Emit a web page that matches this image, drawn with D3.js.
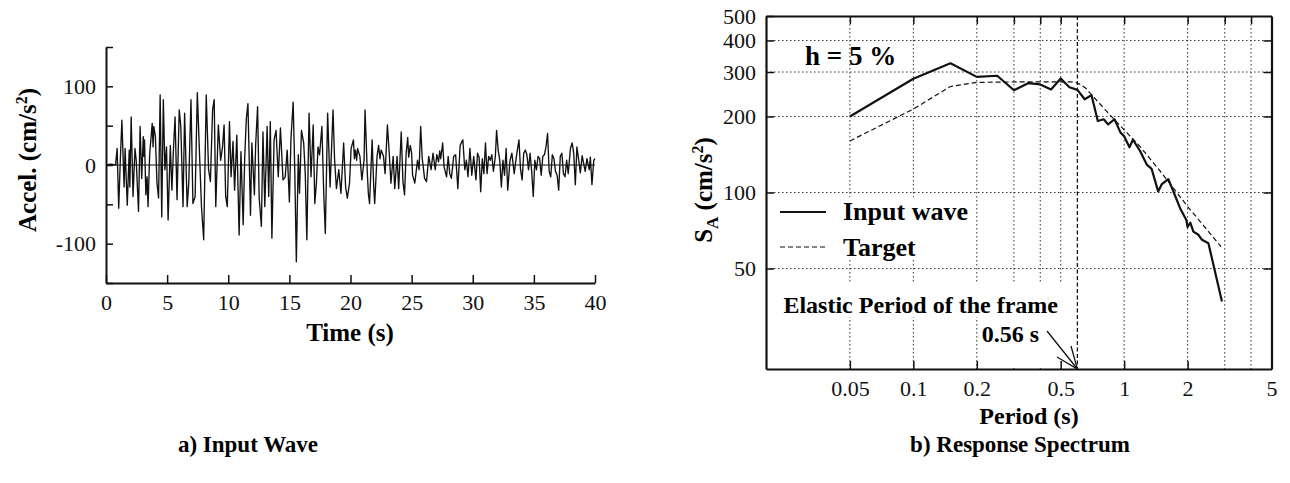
<!DOCTYPE html>
<html>
<head>
<meta charset="utf-8">
<script src="https://cdn.jsdelivr.net/npm/d3@7"></script>
<style>
  body { margin: 0; background: #fff; }
  svg { display: block; font-family: "Liberation Serif", "Times New Roman", serif; }
</style>
</head>
<body>
<svg id="chart" width="1290" height="483"></svg>
<script>
// ---- a) input wave : [time (s), accel (cm/s2)] read peak by peak off the trace
var wave = [
  [0,0],[0.4,1],[0.78,0],[0.91,21],[1.04,-55],[1.17,6],[1.30,57],[1.48,-28],[1.56,21],[1.74,-51],
  [1.90,19],[1.95,-28],[2.06,61],[2.21,-40],[2.37,21],[2.47,6],[2.66,-59],[2.79,49],[2.92,-17],[3.05,36],
  [3.10,11],[3.15,32],[3.26,-38],[3.36,-15],[3.44,-53],[3.57,13],[3.78,53],[3.85,23],[3.91,49],[4.04,36],
  [4.17,-23],[4.30,-42],[4.43,89],[4.56,-66],[4.69,83],[4.82,-6],[4.95,23],[5.08,-70],[5.26,25],[5.39,-32],
  [5.52,21],[5.65,61],[5.81,-44],[5.99,70],[6.12,49],[6.30,-53],[6.43,66],[6.64,-53],[6.77,-23],[6.95,83],
  [7.11,-49],[7.29,-40],[7.47,92],[7.63,23],[7.81,-53],[7.99,-95],[8.20,89],[8.39,-6],[8.54,-21],[8.72,70],
  [8.85,83],[8.98,-53],[9.19,51],[9.38,6],[9.53,23],[9.66,51],[9.79,-40],[9.92,-53],[10.10,55],[10.23,-15],
  [10.39,30],[10.52,-32],[10.70,38],[10.89,-89],[11.04,17],[11.22,-76],[11.35,11],[11.48,59],[11.61,78],[11.82,-64],
  [11.93,28],[12.14,-38],[12.24,25],[12.40,74],[12.53,-42],[12.71,-78],[12.84,42],[12.99,-53],[13.18,49],[13.31,-40],
  [13.44,55],[13.57,-93],[13.75,32],[13.91,44],[14.09,-15],[14.27,47],[14.48,-19],[14.66,-15],[14.82,19],[15.00,-47],
  [15.13,34],[15.31,80],[15.44,-6],[15.57,-123],[15.73,13],[15.83,-36],[15.99,44],[16.17,28],[16.30,-11],[16.43,-95],
  [16.61,66],[16.77,-15],[16.95,51],[17.08,-49],[17.21,-23],[17.34,23],[17.47,13],[17.66,49],[17.81,-36],[17.94,-87],
  [18.13,66],[18.33,-28],[18.57,70],[18.70,6],[18.85,-30],[19.04,-6],[19.22,-36],[19.44,28],[19.60,-28],[19.74,-42],
  [19.92,-23],[20.05,21],[20.24,32],[20.32,8],[20.40,19],[20.50,6],[20.58,21],[20.77,11],[20.93,-19],[21.11,6],
  [21.19,70],[21.38,-11],[21.46,-36],[21.56,-49],[21.77,32],[21.90,-28],[21.98,-49],[22.17,11],[22.30,25],[22.41,8],
  [22.51,19],[22.70,11],[22.83,-11],[23.02,51],[23.17,15],[23.31,-23],[23.49,11],[23.62,-30],[23.81,11],[23.94,-30],
  [24.15,42],[24.29,-21],[24.42,-38],[24.55,15],[24.68,35],[24.76,10],[24.89,25],[25.00,15],[25.08,-13],[25.26,-23],
  [25.48,6],[25.61,-6],[25.74,49],[25.87,8],[26.06,-17],[26.22,-21],[26.40,11],[26.59,-6],[26.75,15],[26.93,-6],
  [27.06,13],[27.20,4],[27.30,18],[27.38,8],[27.54,28],[27.65,-2],[27.86,-15],[27.99,11],[28.12,-11],[28.25,-17],
  [28.44,11],[28.60,13],[28.78,-30],[28.97,25],[29.19,32],[29.35,-6],[29.48,6],[29.61,-15],[29.77,21],[29.92,-13],
  [30.08,11],[30.26,-19],[30.39,15],[30.52,10],[30.65,-34],[30.78,8],[30.91,-11],[31.04,28],[31.17,-11],[31.30,11],
  [31.43,6],[31.56,13],[31.69,-8],[31.85,11],[31.95,44],[32.08,19],[32.21,6],[32.34,-28],[32.47,6],[32.60,-13],
  [32.73,21],[32.86,-32],[33.05,6],[33.20,15],[33.39,-11],[33.57,11],[33.78,32],[33.91,-6],[34.04,-19],[34.17,15],
  [34.30,19],[34.43,13],[34.56,-6],[34.69,15],[34.82,-8],[34.95,-40],[35.08,6],[35.21,-6],[35.34,11],[35.47,8],
  [35.60,-13],[35.73,11],[35.86,13],[35.99,23],[36.12,40],[36.25,-8],[36.38,-15],[36.51,13],[36.64,8],[36.77,-8],
  [36.90,-13],[37.03,-32],[37.16,11],[37.29,15],[37.42,-11],[37.55,-15],[37.68,6],[37.81,-11],[37.99,21],[38.13,28],
  [38.26,15],[38.39,-25],[38.52,23],[38.65,8],[38.80,-10],[38.95,12],[39.07,2],[39.20,-8],[39.34,8],[39.53,-6],
  [39.62,10],[39.75,-25],[39.90,6],[40.0,8]
];
var timeTicks = [0, 5, 10, 15, 20, 25, 30, 35, 40];
var accelTicks = [-150, -100, -50, 0, 50, 100, 150];
var accelLabels = [-100, 0, 100];

// ---- b) response spectrum : [period (s), SA (cm/s2)]
var inputSA = [
  [0.05,200],[0.1,282],[0.15,325],[0.2,287],[0.25,290],[0.3,254],[0.35,271],[0.4,268],[0.45,256],[0.5,283],
  [0.55,261],[0.6,255],[0.65,234],[0.7,243],[0.75,192],[0.8,195],[0.84,186],[0.9,195],[0.96,173],[1.0,167],
  [1.06,151],[1.1,162],[1.19,146],[1.28,129],[1.35,124],[1.45,101],[1.51,108],[1.62,113],[1.72,100],[1.85,86],
  [1.97,78],[2.0,73],[2.06,76],[2.13,70],[2.25,68],[2.34,65],[2.51,63],[2.91,37]
];
var targetSA = [
  [0.05,160],[0.1,214],[0.15,263],[0.2,273],[0.3,274],[0.4,274],[0.5,274],[0.58,274],[0.62,268],[0.66,258],
  [0.75,229],[0.9,194],[1.0,177],[1.19,152],[1.5,120],[2.0,88],[2.38,74],[2.88,61]
];
var periodTicks = [0.05, 0.1, 0.2, 0.5, 1, 2, 5];
var periodGrid = [0.05, 0.1, 0.2, 0.3, 0.4, 0.5, 1, 2, 3, 4];
var saTicks = [50, 100, 200, 300, 400, 500];
var saGrid = [50, 100, 200, 300, 400];
var elasticLineT = 0.6;   // where the dashed marker sits in the picture

var svg = d3.select("#chart");
var black = "#111";

/* ===================== a) Input Wave ===================== */
var xA = d3.scaleLinear().domain([0, 40]).range([106, 595]);
var yA = d3.scaleLinear().domain([-150, 150]).range([283, 47]);
var gA = svg.append("g");

// zero line
gA.append("line")
  .attr("x1", xA(0)).attr("x2", xA(40)).attr("y1", yA(0)).attr("y2", yA(0))
  .attr("stroke", black).attr("stroke-width", 1.2);

gA.append("path")
  .datum(wave)
  .attr("fill", "none").attr("stroke", black).attr("stroke-width", 1.35)
  .attr("stroke-linejoin", "round")
  .attr("d", d3.line().x(function(d) { return xA(d[0]); }).y(function(d) { return yA(d[1]); }));

// axes: ticks point inwards
var axA = gA.append("g").attr("transform", "translate(0," + yA(-150) + ")")
  .call(d3.axisBottom(xA).tickValues(timeTicks).tickSizeInner(-8).tickSizeOuter(0).tickPadding(11));
var ayA = gA.append("g").attr("transform", "translate(" + xA(0) + ",0)")
  .call(d3.axisLeft(yA).tickValues(accelTicks).tickSizeInner(-7).tickSizeOuter(0).tickPadding(10)
    .tickFormat(function(d) { return accelLabels.indexOf(d) >= 0 ? d : ""; }));
[axA, ayA].forEach(function(a) {
  a.select(".domain").attr("stroke", black).attr("stroke-width", 2);
  a.selectAll(".tick line").attr("stroke", black).attr("stroke-width", 1.5);
  a.selectAll("text").attr("fill", black).style("font-size", "22px").style("font-family", "Liberation Serif");
});

gA.append("text").attr("x", 350).attr("y", 341).attr("text-anchor", "middle")
  .style("font-size", "25px").style("font-weight", "bold").text("Time (s)");
gA.append("text").attr("transform", "translate(36,160) rotate(-90)").attr("text-anchor", "middle")
  .style("font-size", "25px").style("font-weight", "bold")
  .html('Accel. (cm/s<tspan dy="-9" style="font-size:16px">2</tspan><tspan dy="9">)</tspan>');
gA.append("text").attr("x", 248).attr("y", 452).attr("text-anchor", "middle")
  .style("font-size", "23px").style("font-weight", "bold").text("a) Input Wave");

/* ===================== b) Response Spectrum ===================== */
var xB = d3.scaleLog().domain([0.02, 5]).range([766, 1271.5]);
var yB = d3.scaleLog().domain([20, 500]).range([369, 16]);
var gB = svg.append("g");

// dotted grid
gB.selectAll("line.vg").data(periodGrid).enter().append("line")
  .attr("x1", function(d) { return xB(d); }).attr("x2", function(d) { return xB(d); })
  .attr("y1", yB(500)).attr("y2", yB(20))
  .attr("stroke", "#333").attr("stroke-width", 1).attr("stroke-dasharray", "1.5,2.5");
gB.selectAll("line.hg").data(saGrid).enter().append("line")
  .attr("x1", xB(0.02)).attr("x2", xB(5))
  .attr("y1", function(d) { return yB(d); }).attr("y2", function(d) { return yB(d); })
  .attr("stroke", "#333").attr("stroke-width", 1).attr("stroke-dasharray", "1.5,2.5");

// white boxes behind legend and annotation text
gB.append("rect").attr("x", 769).attr("y", 197).attr("width", 204).attr("height", 63).attr("fill", "#fff");
gB.append("rect").attr("x", 769).attr("y", 284).attr("width", 293).attr("height", 33).attr("fill", "#fff");
gB.append("rect").attr("x", 980).attr("y", 317).attr("width", 82).attr("height", 51).attr("fill", "#fff");

var lineB = d3.line().x(function(d) { return xB(d[0]); }).y(function(d) { return yB(d[1]); });
gB.append("path").datum(targetSA).attr("fill", "none").attr("stroke", black)
  .attr("stroke-width", 1.2).attr("stroke-dasharray", "5,3").attr("d", lineB);
gB.append("path").datum(inputSA).attr("fill", "none").attr("stroke", black)
  .attr("stroke-width", 2.2).attr("stroke-linejoin", "round").attr("d", lineB);

// elastic period marker
gB.append("line").attr("x1", xB(elasticLineT)).attr("x2", xB(elasticLineT))
  .attr("y1", yB(500)).attr("y2", yB(20))
  .attr("stroke", black).attr("stroke-width", 1.3).attr("stroke-dasharray", "4,2.5");

// axes (all four sides, ticks inward)
var axB = gB.append("g").attr("transform", "translate(0," + yB(20) + ")")
  .call(d3.axisBottom(xB).tickValues(periodTicks).tickSizeInner(-8).tickSizeOuter(0).tickPadding(11)
    .tickFormat(function(d) { return d; }));
var axBTop = gB.append("g").attr("transform", "translate(0," + yB(500) + ")")
  .call(d3.axisTop(xB).tickValues(periodGrid).tickSizeInner(-8).tickSizeOuter(0).tickFormat(""));
var ayB = gB.append("g").attr("transform", "translate(" + xB(0.02) + ",0)")
  .call(d3.axisLeft(yB).tickValues(saTicks).tickSizeInner(-8).tickSizeOuter(0).tickPadding(10)
    .tickFormat(function(d) { return d; }));
var ayBRight = gB.append("g").attr("transform", "translate(" + xB(5) + ",0)")
  .call(d3.axisRight(yB).tickValues(saGrid).tickSizeInner(-8).tickSizeOuter(0).tickFormat(""));
[axB, axBTop, ayB, ayBRight].forEach(function(a) {
  a.select(".domain").attr("stroke", black).attr("stroke-width", 2.2);
  a.selectAll(".tick line").attr("stroke", black).attr("stroke-width", 1.5);
  a.selectAll("text").attr("fill", black).style("font-size", "22px").style("font-family", "Liberation Serif");
});

// texts
gB.append("text").attr("x", 805).attr("y", 65)
  .style("font-size", "27px").style("font-weight", "bold").text("h = 5 %");

gB.append("line").attr("x1", 780).attr("x2", 826).attr("y1", 212).attr("y2", 212)
  .attr("stroke", black).attr("stroke-width", 2.2);
gB.append("text").attr("x", 843).attr("y", 220)
  .style("font-size", "26px").style("font-weight", "bold").text("Input wave");
gB.append("line").attr("x1", 780).attr("x2", 826).attr("y1", 247).attr("y2", 247)
  .attr("stroke", black).attr("stroke-width", 1.2).attr("stroke-dasharray", "5,3");
gB.append("text").attr("x", 843).attr("y", 256)
  .style("font-size", "26px").style("font-weight", "bold").text("Target");

gB.append("text").attr("x", 1058).attr("y", 313).attr("text-anchor", "end")
  .style("font-size", "24px").style("font-weight", "bold").text("Elastic Period of the frame");
gB.append("text").attr("x", 1039).attr("y", 342).attr("text-anchor", "end")
  .style("font-size", "24px").style("font-weight", "bold").text("0.56 s");

// arrow to the axis
var tip = [xB(elasticLineT), yB(20)];
gB.append("line").attr("x1", 1047).attr("y1", 331).attr("x2", tip[0]).attr("y2", tip[1])
  .attr("stroke", black).attr("stroke-width", 1.3);
gB.append("path")
  .attr("d", "M1057,357L" + tip[0] + "," + tip[1] + "L1071,346")
  .attr("fill", "none").attr("stroke", black).attr("stroke-width", 1.3);

gB.append("text").attr("x", 1029).attr("y", 424).attr("text-anchor", "middle")
  .style("font-size", "24px").style("font-weight", "bold").text("Period (s)");
gB.append("text").attr("transform", "translate(712,190) rotate(-90)").attr("text-anchor", "middle")
  .style("font-size", "25px").style("font-weight", "bold")
  .html('S<tspan dy="6" style="font-size:17px">A</tspan><tspan dy="-6"> (cm/s</tspan><tspan dy="-9" style="font-size:16px">2</tspan><tspan dy="9">)</tspan>');
gB.append("text").attr("x", 1020).attr("y", 452).attr("text-anchor", "middle")
  .style("font-size", "23px").style("font-weight", "bold").text("b) Response Spectrum");
</script>
</body>
</html>
